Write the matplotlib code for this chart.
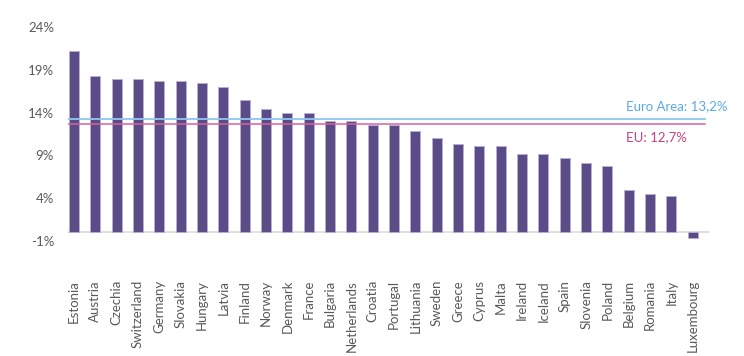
import matplotlib

matplotlib.use("Agg")
import matplotlib.pyplot as plt  # noqa: E402
import numpy as np  # noqa: E402

countries = ["Estonia", "Austria", "Czechia", "Switzerland", "Germany", "Slovakia",
             "Hungary", "Latvia", "Finland", "Norway", "Denmark", "France", "Bulgaria",
             "Netherlands", "Croatia", "Portugal", "Lithuania", "Sweden", "Greece",
             "Cyprus", "Malta", "Ireland", "Iceland", "Spain", "Slovenia", "Poland",
             "Belgium", "Romania", "Italy", "Luxembourg"]
values = [21.2, 18.3, 17.9, 17.9, 17.7, 17.7, 17.5, 17.0, 15.5, 14.4, 13.9, 13.9, 13.0,
          13.0, 12.5, 12.5, 11.9, 11.05, 10.35, 10.15, 10.15, 9.2, 9.2, 8.65, 8.1, 7.8,
          5.0, 4.5, 4.3, -0.7]
euro_area = 13.2
eu = 12.7
yticks = [-1, 4, 9, 14, 19, 24]

plt.rcParams["font.family"] = ["Lato", "DejaVu Sans"]

fig = plt.figure(figsize=(7.44, 3.56), dpi=100)
ax = fig.add_axes([0.0914, 0.323, 0.8616, 0.601])

x = np.arange(len(countries))
ax.bar(x, values, width=0.47, color="#5b4b87", edgecolor="#b9b0d6", linewidth=0.6, zorder=3)
ax.axhline(0, color="#d9d9d9", linewidth=1.2, zorder=2)

# reference lines, stopping a little short of the axis end
ax.plot([-0.28, 29.57], [euro_area, euro_area], color="#8cc7f0", linewidth=1.3, zorder=4)
ax.plot([-0.28, 29.57], [eu, eu], color="#d9609a", linewidth=1.1, zorder=4)
ax.text(25.87, euro_area + 0.9, f"Euro Area: {euro_area:.1f}%".replace(".", ","),
        color="#5aa9e6", fontsize=9.5, va="bottom", ha="left")
ax.text(25.87, eu - 0.9, f"EU: {eu:.1f}%".replace(".", ","),
        color="#c8407f", fontsize=9.5, va="top", ha="left")

ax.set_xlim(-0.28, 29.76)
ax.set_ylim(-1, 24)
ax.set_yticks(yticks)
ax.set_yticklabels([f"{t}%" for t in yticks])
ax.set_xticks(x)
ax.set_xticklabels(countries, rotation=90, va="top", ha="center")
ax.tick_params(axis="both", length=0, labelsize=9.5, labelcolor="#595959")
ax.tick_params(axis="y", pad=10)
ax.tick_params(axis="x", pad=28)
for s in ax.spines.values():
    s.set_visible(False)

fig.savefig("out.png", dpi=100)
